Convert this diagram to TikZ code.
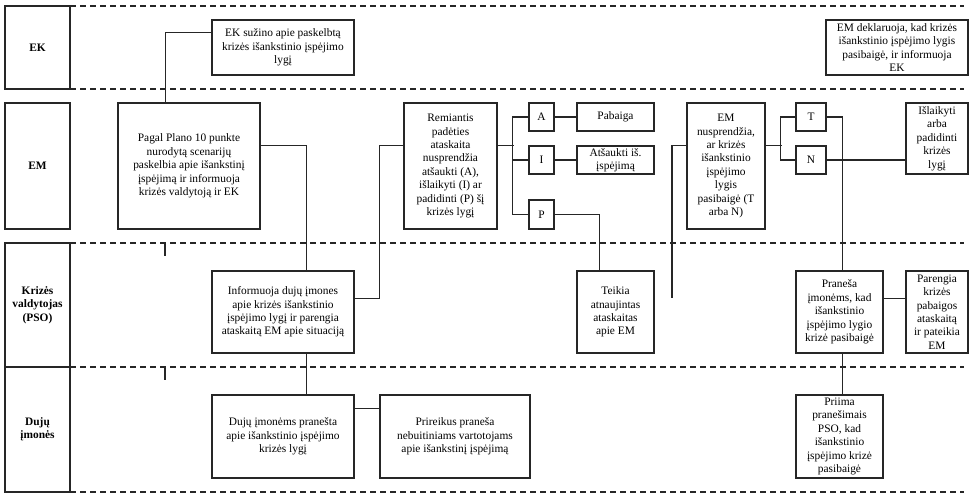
\documentclass[tikz,border=0pt]{standalone}
\usepackage{fontspec}
\setmainfont{Liberation Serif}
\begin{document}
\begin{tikzpicture}[x=1pt,y=-1pt,
  box/.style={draw=black!85, line width=1.2pt, rectangle, inner sep=1pt, align=center,
    font=\fontsize{11.4}{13.4}\selectfont},
  lane/.style={box, font=\fontsize{11.4}{13.4}\selectfont\bfseries},
  conn/.style={draw=black!85, line width=1.1pt},
  sep/.style={draw=black!85, line width=1.1pt, dash pattern=on 6pt off 4pt}]
\useasboundingbox (0,0) rectangle (979,502);
% lane separators
\foreach \yy in {6,89,243,367,492} \draw[sep] (70,\yy) -- (964,\yy);
\draw[conn] (165,243) -- (165,256);
\draw[conn] (165,367) -- (165,380);
% lane labels
\node[lane, minimum width=65, minimum height=83] (ekL) at (37.5,47.5) {EK};
\node[lane, minimum width=65, minimum height=126] (emL) at (37.5,166) {EM};
\node[lane, minimum width=65, minimum height=124] (kvL) at (37.5,305) {Krizės\\valdytojas\\(PSO)};
\node[lane, minimum width=65, minimum height=125] (djL) at (37.5,429.5) {Dujų\\įmonės};
% boxes
\node[box, minimum width=142, minimum height=55] (ek1) at (283,47.5) {EK sužino apie paskelbtą\\krizės išankstinio įspėjimo\\lygį};
\node[box, minimum width=142, minimum height=126] (pagal) at (189,166) {Pagal Plano 10 punkte\\nurodytą scenarijų\\paskelbia apie išankstinį\\įspėjimą ir informuoja\\krizės valdytoją ir EK};
\node[box, minimum width=142, minimum height=82] (inf) at (283,312) {Informuoja dujų įmones\\apie krizės išankstinio\\įspėjimo lygį ir parengia\\ataskaitą EM apie situaciją};
\node[box, minimum width=142, minimum height=83] (duj) at (283,436.5) {Dujų įmonėms pranešta\\apie išankstinio įspėjimo\\krizės lygį};
\node[box, minimum width=150, minimum height=83] (prir) at (455,436.5) {Prireikus praneša\\nebuitiniams vartotojams\\apie išankstinį įspėjimą};
\node[box, minimum width=93, minimum height=126] (rem) at (450.5,166) {Remiantis\\padėties\\ataskaita\\nusprendžia\\atšaukti (A),\\išlaikyti (I) ar\\padidinti (P) šį\\krizės lygį};
\node[box, minimum width=25, minimum height=28] (A) at (541.5,117) {A};
\node[box, minimum width=25, minimum height=28] (I) at (541.5,160) {I};
\node[box, minimum width=25, minimum height=29] (P) at (541.5,214.5) {P};
\node[box, minimum width=77, minimum height=28] (pab) at (615.5,117) {Pabaiga};
\node[box, minimum width=77, minimum height=28] (ats) at (615.5,160) {Atšaukti iš.\\įspėjimą};
\node[box, minimum width=77, minimum height=82] (teik) at (615.5,312) {Teikia\\atnaujintas\\ataskaitas\\apie EM};
\node[box, minimum width=78, minimum height=126] (emn) at (726,166) {EM\\nusprendžia,\\ar krizės\\išankstinio\\įspėjimo\\lygis\\pasibaigė (T\\arba N)};
\node[box, minimum width=30, minimum height=28] (T) at (811,117) {T};
\node[box, minimum width=30, minimum height=28] (N) at (811,160) {N};
\node[box, minimum width=62, minimum height=71] (isl) at (937,138.5) {Išlaikyti\\arba\\padidinti\\krizės\\lygį};
\node[box, minimum width=142, minimum height=55] (emd) at (897,47.5) {EM deklaruoja, kad krizės\\išankstinio įspėjimo lygis\\pasibaigė, ir informuoja\\EK};
\node[box, minimum width=87, minimum height=82] (pran) at (839.5,312) {Praneša\\įmonėms, kad\\išankstinio\\įspėjimo lygio\\krizė pasibaigė};
\node[box, minimum width=62, minimum height=82] (pare) at (937,312) {Parengia\\krizės\\pabaigos\\ataskaitą\\ir pateikia\\EM};
\node[box, minimum width=87, minimum height=83] (priim) at (839.5,436.5) {Priima\\pranešimais\\PSO, kad\\išankstinio\\įspėjimo krizė\\pasibaigė};
\coordinate (freeend) at (672,298);
% connectors
\draw[conn] ([yshift=-13pt]ek1.north west) -| ([xshift=48pt]pagal.north west);
\draw[conn] ([yshift=-43pt]pagal.north east) -| ([xshift=95pt]inf.north west);
\draw[conn] ([xshift=95pt]inf.south west) -- ([xshift=95pt]duj.north west);
\draw[conn] ([yshift=-14pt]duj.north east) -- ([yshift=-14pt]prir.north west);
\draw[conn] ([yshift=-28pt]inf.north east) -| ([xshift=-24pt,yshift=-43pt]rem.north west) -- ([yshift=-43pt]rem.north west);
\draw[conn] ([yshift=-43pt]rem.north east) -- ++(16,0);
\draw[conn] (A.west) -- ++(-16,0) |- (P.west);
\draw[conn] (I.west) -- ++(-16,0);
\draw[conn] (A.east) -- (pab.west);
\draw[conn] (I.east) -- (ats.west);
\draw[conn] (P.east) -| ([xshift=23pt]teik.north west);
\draw[conn] ([yshift=-43pt]emn.north west) -| (freeend);
\draw[conn] ([yshift=-43pt]emn.north east) -- ++(16,0);
\draw[conn] (T.west) -- ++(-15,0) |- (N.west);
\draw[conn] (T.east) -| ([xshift=47pt]pran.north west);
\draw[conn] (N.east) -- (N.east -| isl.west);
\draw[conn] ([yshift=-28pt]pran.north east) -- ([yshift=-28pt]pare.north west);
\draw[conn] ([xshift=47pt]pran.south west) -- ([xshift=47pt]priim.north west);
\end{tikzpicture}
\end{document}
